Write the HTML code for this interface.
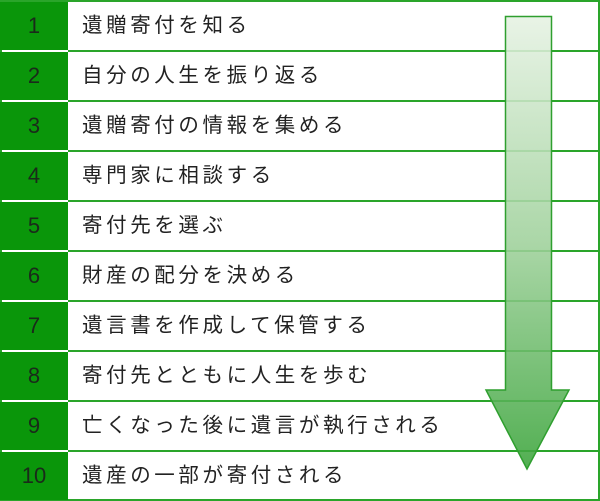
<!DOCTYPE html>
<html><head><meta charset="utf-8"><style>
html,body{margin:0;padding:0;background:#fff;}
body{width:600px;height:501px;position:relative;overflow:hidden;font-family:"Liberation Sans","Noto Sans CJK JP",sans-serif;}
.row{position:absolute;left:0;width:598px;height:48px;}
.num{position:absolute;left:0;top:0;width:68px;height:48px;background:#0a960a;color:#1a2a1a;font-size:22px;line-height:48px;text-align:center;}
.txt{position:absolute;left:82px;top:0;line-height:48px;font-size:20.5px;letter-spacing:3.6px;color:#222;}
.line{position:absolute;left:68px;width:531px;height:2px;background:#2aa52a;}
</style></head><body>
<div style="position:absolute;left:0;top:0;width:600px;height:501px;box-sizing:border-box;border:2px solid #2aa52a;"></div>
<div class="row" style="top:2px"><div class="num">1</div><div class="txt">遺贈寄付を知る</div></div>
<div class="row" style="top:52px"><div class="num">2</div><div class="txt">自分の人生を振り返る</div></div>
<div class="row" style="top:102px"><div class="num">3</div><div class="txt">遺贈寄付の情報を集める</div></div>
<div class="row" style="top:152px"><div class="num">4</div><div class="txt">専門家に相談する</div></div>
<div class="row" style="top:202px"><div class="num">5</div><div class="txt">寄付先を選ぶ</div></div>
<div class="row" style="top:252px"><div class="num">6</div><div class="txt">財産の配分を決める</div></div>
<div class="row" style="top:302px"><div class="num">7</div><div class="txt">遺言書を作成して保管する</div></div>
<div class="row" style="top:352px"><div class="num">8</div><div class="txt">寄付先とともに人生を歩む</div></div>
<div class="row" style="top:402px"><div class="num">9</div><div class="txt">亡くなった後に遺言が執行される</div></div>
<div class="row" style="top:452px"><div class="num">10</div><div class="txt">遺産の一部が寄付される</div></div>
<div class="line" style="top:50px"></div>
<div class="line" style="top:100px"></div>
<div class="line" style="top:150px"></div>
<div class="line" style="top:200px"></div>
<div class="line" style="top:250px"></div>
<div class="line" style="top:300px"></div>
<div class="line" style="top:350px"></div>
<div class="line" style="top:400px"></div>
<div class="line" style="top:450px"></div>
<svg width="600" height="501" style="position:absolute;left:0;top:0">
<defs><linearGradient id="g" x1="0" y1="0" x2="0" y2="1">
<stop offset="0" stop-color="#e6f2e3"/><stop offset="0.5" stop-color="#9fd19b"/><stop offset="1" stop-color="#3aa43a"/></linearGradient></defs>
<polygon points="505.5,16.5 551.5,16.5 551.5,390 569,390 527,469 486,390 505.5,390" fill="url(#g)" fill-opacity="0.88" stroke="#2f9f2f" stroke-width="1.5"/>
</svg>
</body></html>
